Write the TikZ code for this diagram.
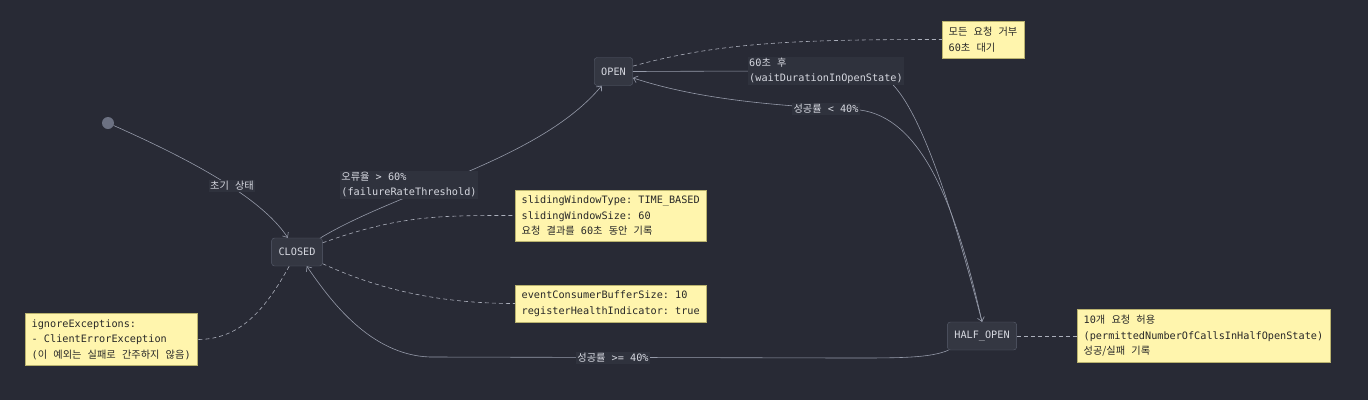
\documentclass[tikz,border=0pt]{standalone}
\usepackage{fontspec}
\setmainfont{DejaVu Sans Mono}
\newfontfamily\ko[Scale=1.0,WordSpace={2.7,0,0}]{Noto Sans CJK KR}
\newcommand{\kt}[1]{{\ko #1}}
\usetikzlibrary{arrows.meta}
\frenchspacing

\definecolor{bgcol}{RGB}{40,42,53}
\definecolor{statefill}{RGB}{52,55,66}
\definecolor{statedraw}{RGB}{88,93,108}
\definecolor{txtcol}{RGB}{214,216,224}
\definecolor{linecol}{RGB}{150,155,170}
\definecolor{notefill}{RGB}{255,245,173}
\definecolor{notedraw}{RGB}{185,178,110}
\definecolor{notetxt}{RGB}{40,40,40}
\definecolor{lblfill}{RGB}{47,50,61}
\definecolor{startcol}{RGB}{108,113,130}

\begin{document}
\begin{tikzpicture}[x=1pt,y=-1pt,
	statebox/.style={draw=statedraw,fill=statefill,rounded corners=3pt,text=txtcol,inner xsep=7pt,minimum height=28pt,font=\fontsize{10.2}{12}\selectfont},
	notebox/.style={draw=notedraw,fill=notefill,text=notetxt,align=left,inner xsep=6.5pt,inner ysep=6pt,font=\fontsize{10.2}{15.5}\selectfont\frenchspacing},
	edgelbl/.style={fill=lblfill,text=txtcol,align=left,inner sep=1.5pt,font=\fontsize{10.2}{15}\selectfont\frenchspacing},
	trans/.style={draw=linecol,line width=0.6pt,-{Straight Barb[length=4pt,width=7pt]}},
	notelink/.style={draw=linecol!80,line width=0.6pt,dash pattern=on 4pt off 3pt}]

	\fill[bgcol] (0,0) rectangle (1368,400);
	\useasboundingbox (0,0) rectangle (1368,400);

	\node[circle,fill=startcol,minimum size=12pt,inner sep=0pt] (start) at (108,123) {};
	\node[statebox]	(CLOSED)	at (297,252)		{CLOSED};
	\node[statebox]	(OPEN)		at (613.5,71.5)		{OPEN};
	\node[statebox]	(HALFOPEN)	at (982,336)		{HALF\_OPEN};

	\node[notebox,anchor=west] (noteWindow) at (515,215.5) {slidingWindowType: TIME\_BASED\\slidingWindowSize: 60\\\kt{요청 결과를} 60\kt{초 동안 기록}};
	\node[notebox,anchor=west] (noteEvent) at (515,303.5) {eventConsumerBufferSize: 10\\registerHealthIndicator: true};
	\node[notebox,anchor=west] (noteIgnore) at (25,339.5) {ignoreExceptions:\\- ClientErrorException\\(\kt{이 예외는 실패로 간주하지 않음})};
	\node[notebox,anchor=west] (noteOpen) at (942,39.5) {\kt{모든 요청 거부}\\60\kt{초 대기}};
	\node[notebox,anchor=west] (noteHalf) at (1077,336) {10\kt{개 요청 허용}\\(permittedNumberOfCallsInHalfOpenState)\\\kt{성공/실패 기록}};

	% transitions
	\draw[trans] (start) .. controls (180,155) and (260,195) .. (CLOSED);
	\draw[trans] (CLOSED) .. controls (400,190) and (540,160) .. (OPEN);
	\draw[trans] (OPEN.east) .. controls (760,71) and (850,70) .. (880,75) .. controls (915,90) and (950,200) .. (HALFOPEN.north);
	\draw[trans] (HALFOPEN.north) .. controls (955,200) and (920,118) .. (860,110) .. controls (780,106) and (700,100) .. (OPEN);
	\draw[trans] (HALFOPEN) .. controls (930,358) and (900,358) .. (850,358) -- (430,357) .. controls (370,355) and (330,300) .. (CLOSED);

	% note links
	\draw[notelink] (CLOSED) .. controls (400,215) and (440,215.5) .. (noteWindow.west);
	\draw[notelink] (CLOSED) .. controls (380,290) and (440,303.5) .. (noteEvent.west);
	\draw[notelink] (CLOSED) .. controls (265,310) and (240,339.5) .. (noteIgnore.east);
	\draw[notelink] (OPEN) .. controls (720,42) and (800,39.5) .. (noteOpen.west);
	\draw[notelink] (HALFOPEN) -- (noteHalf);

	\node[edgelbl] (lblInit)	at (232,186)	{\kt{초기 상태}};
	\node[edgelbl] (lblFail)	at (409,185)	{\kt{오류율} > 60\%\\(failureRateThreshold)};
	\node[edgelbl] (lblWait)	at (826,71)		{60\kt{초 후}\\(waitDurationInOpenState)};
	\node[edgelbl] (lblRetry)	at (826,109)	{\kt{성공률} < 40\%};
	\node[edgelbl] (lblRecover)	at (613,358)	{\kt{성공률} >= 40\%};

\end{tikzpicture}
\end{document}
